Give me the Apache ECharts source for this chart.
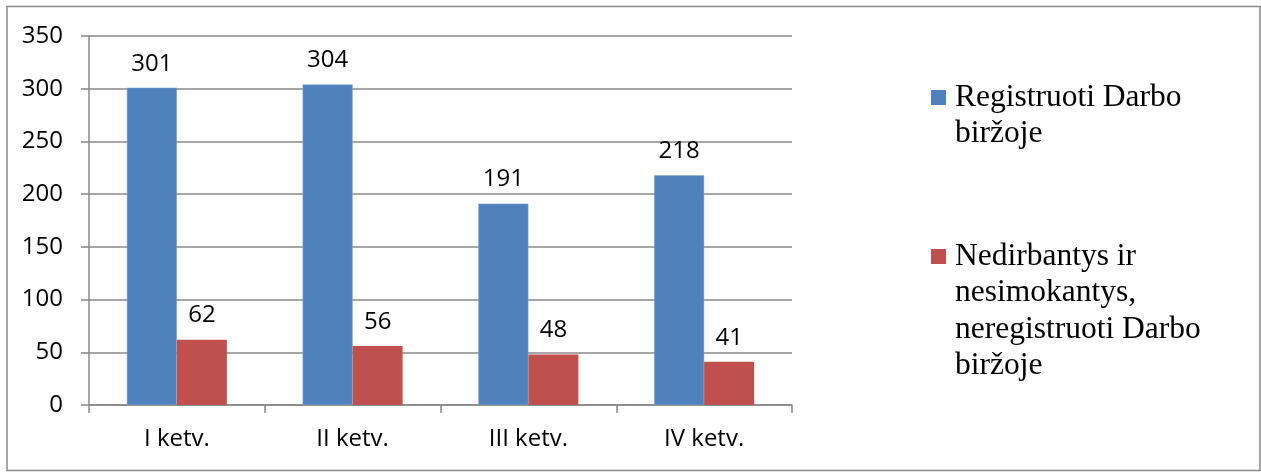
<!DOCTYPE html>
<html>
<head>
<meta charset="utf-8">
<script src="https://cdn.jsdelivr.net/npm/echarts@6/dist/echarts.min.js"></script>
<style>html,body{margin:0;padding:0;background:#fff}#c{width:1261px;height:472px}</style>
</head>
<body>
<div id="c"></div>
<script>
const categories = ['I ketv.', 'II ketv.', 'III ketv.', 'IV ketv.'];
const seriesNames = ['Registruoti Darbo biržoje', 'Nedirbantys ir nesimokantys, neregistruoti Darbo biržoje'];
const legendLines = [['Registruoti Darbo', 'biržoje'], ['Nedirbantys ir', 'nesimokantys,', 'neregistruoti Darbo', 'biržoje']];
const registered = [301, 304, 191, 218];
const notRegistered = [62, 56, 48, 41];
const yTicks = [0, 50, 100, 150, 200, 250, 300, 350];

const colors = ['#4F81BD', '#C0504D'];
const chart = echarts.init(document.getElementById('c'), null, {renderer: 'canvas'});
const lab = {show: true, position: 'top', distance: 12, color: '#000', fontFamily: 'Open Sans', fontSize: 24};

function legendGroup(i, top) {
  const children = [{type: 'rect', shape: {x: 0, y: 0, width: 15, height: 15}, style: {fill: colors[i]}}];
  legendLines[i].forEach((t, k) => {
    children.push({type: 'text', x: 24, y: 23.5 + k * 36.4, style: {text: t, fill: '#000', font: '31.5px "Liberation Serif"', verticalAlign: 'bottom'}});
  });
  return {type: 'group', x: 931, y: top, children};
}

chart.setOption({
  animation: false,
  grid: {left: 89, right: 469, top: 36, bottom: 67, containLabel: false},
  xAxis: {
    type: 'category', data: categories,
    axisLine: {lineStyle: {color: '#888', width: 1.5}},
    axisTick: {show: true, length: 8, lineStyle: {color: '#888', width: 1.5}},
    axisLabel: {color: '#000', fontFamily: 'Open Sans', fontSize: 24, margin: 22}
  },
  yAxis: {
    type: 'value', min: yTicks[0], max: yTicks[yTicks.length - 1], interval: 50,
    axisLine: {show: true, lineStyle: {color: '#888', width: 1.5}},
    axisTick: {show: true, length: 8, lineStyle: {color: '#888', width: 1.5}},
    axisLabel: {color: '#000', fontFamily: 'Open Sans', fontSize: 24, margin: 26},
    splitLine: {lineStyle: {color: '#888', width: 1.5}}
  },
  series: [
    {name: seriesNames[0], type: 'bar', data: registered, barWidth: 50, barGap: '0%', itemStyle: {color: colors[0], borderColor: '#7FA3D4', borderWidth: 0.5}, label: lab},
    {name: seriesNames[1], type: 'bar', data: notRegistered, barWidth: 50, barGap: '0%', itemStyle: {color: colors[1]}, label: lab}
  ],
  graphic: [
    {type: 'rect', shape: {x: 7, y: 6.5, width: 1253, height: 464}, style: {fill: 'none', stroke: '#888', lineWidth: 1.5}, silent: true},
    legendGroup(0, 90),
    legendGroup(1, 249)
  ]
});
</script>
</body>
</html>
